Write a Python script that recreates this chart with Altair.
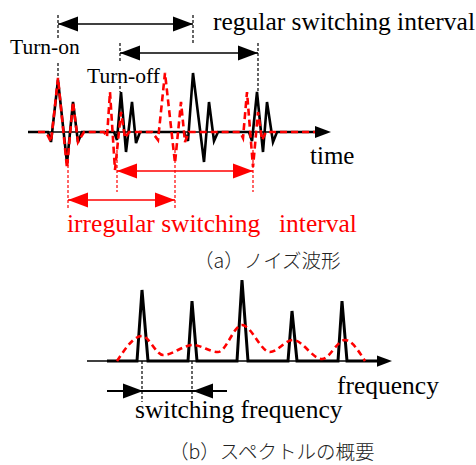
import altair as alt
import pandas as pd

W, H = 476, 465

# ---- (a) noise waveforms: time position / vertical position (diagram units) ----
black_t = [28, 48, 51, 58, 67, 73, 78, 82, 114, 117, 121, 126, 132, 136, 140,
           184, 188, 193, 204, 209, 214, 218, 249, 252, 257, 263, 267, 273, 277, 318]
black_v = [132, 132, 142, 80, 163, 102, 142, 132, 132, 140, 92, 152, 102, 143, 132,
           132, 141, 73, 162, 102, 141, 132, 132, 141, 92, 152, 102, 142, 132, 132]

red_t = [38, 46, 51, 58, 67, 73, 78, 84, 104, 107, 110, 115, 121, 125, 129,
         152, 158, 165, 175, 181, 185, 189, 240, 243, 247, 253, 258, 262, 266, 322]
red_v = [132, 132, 142, 78, 168, 102, 142, 132, 132, 137, 92, 170, 112, 138, 132,
         132, 140, 73, 163, 102, 142, 132, 132, 138, 92, 167, 112, 140, 132, 132]

# ---- (b) spectrum ----
spec_f = [107, 137, 142, 148, 188, 192, 197, 237, 242, 248, 288, 292, 297, 338, 342, 347, 378]
spec_a = [361, 361, 290, 361, 361, 301, 361, 361, 280, 361, 361, 311, 361, 361, 301, 361, 361]

env_f = [117, 142, 163, 193, 218, 242, 270, 293, 322, 345, 365]
env_a = [361, 336, 355, 345, 352, 325, 352, 340, 359, 340, 361]

# ---- solid segments: x, y, x2, y2, colour, width ----
seg_x1 = [28, 58, 120, 117, 68, 87, 107]
seg_y1 = [132, 24, 53, 171, 200, 361, 391]
seg_x2 = [318, 193, 258, 253, 175, 382, 227]
seg_y2 = [132, 24, 53, 171, 200, 361, 391]
seg_col = ["black", "black", "black", "red", "red", "black", "black"]
seg_w = [1.5, 1.5, 1.5, 1.5, 1.5, 1.6, 2.0]

# ---- dashed guide lines ----
dash_x = [58, 58, 193, 120, 120, 258, 142, 192, 68, 117, 175, 253]
dash_y1 = [15, 63, 15, 43, 86, 43, 361, 361, 150, 150, 150, 150]
dash_y2 = [40, 80, 45, 63, 92, 92, 402, 402, 208, 192, 208, 192]
dash_col = ["black"] * 8 + ["red"] * 4

# ---- arrow heads: tip position, direction, colour, length ----
head_x = [58, 193, 120, 258, 117, 253, 68, 175, 331, 392, 143, 193]
head_y = [24, 24, 53, 53, 171, 171, 200, 200, 132, 361, 391, 391]
head_dir = ["L", "R", "L", "R", "L", "R", "L", "R", "R", "R", "R", "L"]
head_col = ["black"] * 4 + ["red"] * 4 + ["black"] * 4
head_len = [20, 20, 20, 20, 20, 20, 20, 20, 16, 15, 20, 20]

# ---- texts (x = left edge, y = baseline) ----
txt = ["regular switching interval", "Turn-on", "Turn-off", "time",
       "irregular switching", "interval", "frequency", "switching frequency"]
txt_x = [213, 10, 87, 310, 67, 279, 337, 135]
txt_y = [30, 54, 83, 164, 232, 232, 394, 418]
txt_col = ["black", "black", "black", "black", "red", "red", "black", "black"]
txt_size = [25.5, 21.5, 21.5, 25, 25.5, 25.5, 25.5, 25.5]

cap = ["（a）ノイズ波形", "（b）スペクトルの概要"]
cap_x = [194, 169]
cap_y = [262, 453]

xs = alt.Scale(domain=[0, W], nice=False, zero=False)
ys = alt.Scale(domain=[0, H], nice=False, zero=False, reverse=True)

def X(f):
    return alt.X(f, type="quantitative", scale=xs, axis=None)

def Y(f):
    return alt.Y(f, type="quantitative", scale=ys, axis=None)

seg = pd.DataFrame(dict(x=seg_x1, y=seg_y1, x2=seg_x2, y2=seg_y2, c=seg_col, w=seg_w))
solid = alt.Chart(seg).mark_rule().encode(
    x=X("x"), y=Y("y"), x2="x2", y2="y2",
    color=alt.Color("c:N", scale=None),
    strokeWidth=alt.StrokeWidth("w:Q", scale=None),
)

dd = pd.DataFrame(dict(x=dash_x, y=dash_y1, y2=dash_y2, c=dash_col))
dashed = alt.Chart(dd).mark_rule(strokeWidth=1.2, strokeDash=[3, 2]).encode(
    x=X("x"), y=Y("y"), y2="y2", color=alt.Color("c:N", scale=None)
)

bw = pd.DataFrame(dict(t=black_t, v=black_v, i=range(len(black_t))))
black_wave = alt.Chart(bw).mark_line(color="black", strokeWidth=2.6, strokeJoin="miter").encode(
    x=X("t"), y=Y("v"), order="i:Q"
)

rw = pd.DataFrame(dict(t=red_t, v=red_v, i=range(len(red_t))))
red_wave = alt.Chart(rw).mark_line(color="red", strokeWidth=2.6, strokeDash=[7, 4]).encode(
    x=X("t"), y=Y("v"), order="i:Q"
)

sp = pd.DataFrame(dict(f=spec_f, a=spec_a, i=range(len(spec_f))))
spikes = alt.Chart(sp).mark_line(color="black", strokeWidth=3, strokeJoin="miter").encode(
    x=X("f"), y=Y("a"), order="i:Q"
)

en = pd.DataFrame(dict(f=env_f, a=env_a))
envelope = alt.Chart(en).mark_line(color="red", strokeWidth=2.6, strokeDash=[6, 4],
                                   interpolate="monotone").encode(
    x=X("f"), y=Y("a")
)

shapes = {"R": "M0,0 L-2,-0.75 L-2,0.75 Z", "L": "M0,0 L2,-0.75 L2,0.75 Z"}
hd = pd.DataFrame(dict(x=head_x, y=head_y,
                       s=[shapes[d] for d in head_dir],
                       c=head_col,
                       z=[l * l for l in head_len]))
heads = alt.Chart(hd).mark_point(filled=True, opacity=1, strokeWidth=0).encode(
    x=X("x"), y=Y("y"),
    shape=alt.Shape("s:N", scale=None),
    color=alt.Color("c:N", scale=None),
    size=alt.Size("z:Q", scale=None),
)

td = pd.DataFrame(dict(t=txt, x=txt_x, y=txt_y, c=txt_col, s=txt_size))
texts = alt.Chart(td).mark_text(font="Liberation Serif", align="left", baseline="alphabetic").encode(
    x=X("x"), y=Y("y"), text="t:N",
    color=alt.Color("c:N", scale=None),
    size=alt.Size("s:Q", scale=None),
)

cd = pd.DataFrame(dict(t=cap, x=cap_x, y=cap_y))
caps = alt.Chart(cd).mark_text(font="Noto Sans CJK JP", fontSize=19.5, fontWeight=300,
                               align="left", baseline="middle", color="#222222").encode(
    x=X("x"), y=Y("y"), text="t:N"
)

chart = alt.layer(
    solid, dashed, black_wave, red_wave, spikes, envelope, heads, texts, caps
).properties(
    width=W, height=H, padding=0, autosize="none", background="white"
).configure_view(stroke=None)

chart.save("out.html", embed_options={"renderer": "svg", "actions": False})
